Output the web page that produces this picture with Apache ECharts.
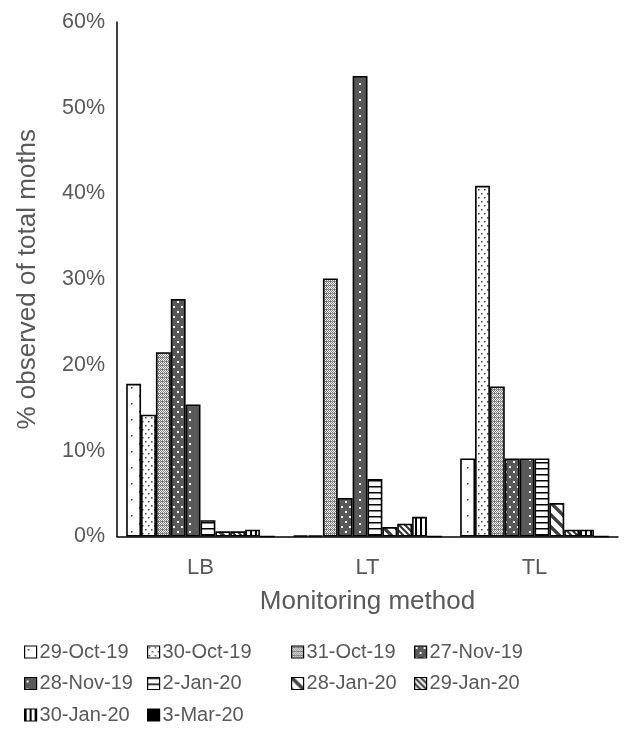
<!DOCTYPE html>
<html>
<head>
<meta charset="utf-8">
<script src="https://cdn.jsdelivr.net/npm/echarts@6/dist/echarts.min.js"></script>
<style>
  html, body { margin: 0; padding: 0; background: #fff; }
  #chart { width: 641px; height: 731px; }
</style>
</head>
<body>
<div id="chart"></div>
<script>
// Monitoring methods on the x axis
const methods = ['LB', 'LT', 'TL'];

// Observation dates (one bar series each)
const dates = ['29-Oct-19', '30-Oct-19', '31-Oct-19', '27-Nov-19', '28-Nov-19',
               '2-Jan-20', '28-Jan-20', '29-Jan-20', '30-Jan-20', '3-Mar-20'];

// % of total moths observed, per method, one value per date
const lbValues = [17.8, 14.2, 21.5, 27.7, 15.4, 1.9, 0.6, 0.6, 0.8, 0];
const ltValues = [0.1, 0.1, 30.1, 4.5, 53.7, 6.7, 1.1, 1.5, 2.3, 0];
const tlValues = [9.1, 40.9, 17.5, 9.1, 9.1, 9.1, 3.9, 0.8, 0.8, 0];

// Y axis ticks (percent)
const yTicks = [0, 10, 20, 30, 40, 50, 60];

const FONT = '"Liberation Sans", Arial, sans-serif';
const TEXT = '#595959';
const DARK = '#595959';

// Build a repeating canvas fill
function tile(w, h, bg, draw) {
  const c = document.createElement('canvas');
  c.width = w; c.height = h;
  const g = c.getContext('2d');
  g.fillStyle = bg;
  g.fillRect(0, 0, w, h);
  draw(g);
  return { image: c, repeat: 'repeat' };
}

const fills = [
  // sparse dots on white
  tile(16, 16, '#fff', g => { g.fillStyle = '#333'; g.fillRect(3, 3, 1.5, 1.5); g.fillRect(11, 11, 1.5, 1.5); }),
  // dense dots on white
  tile(6, 8, '#fff', g => { g.fillStyle = '#444'; g.fillRect(1, 1, 1.5, 1.5); g.fillRect(4, 5, 1.5, 1.5); }),
  // fine textured check
  tile(4, 4, '#fff', g => {
    g.fillStyle = '#7a7a7a';
    g.fillRect(0, 0, 1, 1); g.fillRect(2, 0, 1, 1);
    g.fillRect(1, 1, 2, 1); g.fillRect(3, 1, 1, 1);
    g.fillRect(0, 2, 1, 1); g.fillRect(2, 2, 1, 1);
    g.fillRect(1, 3, 1, 1); g.fillRect(3, 3, 1, 1);
    g.fillStyle = '#b0b0b0';
    g.fillRect(0, 1, 1, 1);
  }),
  // dark with dense white dots
  tile(8, 10, DARK, g => { g.fillStyle = '#fff'; g.fillRect(1, 1, 2, 2); g.fillRect(5, 6, 2, 2); }),
  // dark with sparse white dots
  tile(17, 8, DARK, g => { g.fillStyle = '#fff'; g.fillRect(2, 3, 2, 2); }),
  // horizontal lines
  tile(8, 6, '#fff', g => { g.fillStyle = '#000'; g.fillRect(0, 0, 8, 1.5); }),
  // wide diagonal stripes
  tile(12, 12, '#fff', g => {
    g.strokeStyle = '#404040'; g.lineWidth = 3.5;
    g.beginPath();
    g.moveTo(-3, -3); g.lineTo(15, 15);
    g.moveTo(-15, -3); g.lineTo(3, 15);
    g.moveTo(9, -3); g.lineTo(27, 15);
    g.stroke();
  }),
  // dense diagonal stripes
  tile(6, 6, '#fff', g => {
    g.strokeStyle = '#333'; g.lineWidth = 2;
    g.beginPath();
    g.moveTo(-2, -2); g.lineTo(8, 8);
    g.moveTo(-8, -2); g.lineTo(2, 8);
    g.moveTo(4, -2); g.lineTo(14, 8);
    g.stroke();
  }),
  // vertical lines
  tile(5, 8, '#fff', g => { g.fillStyle = '#000'; g.fillRect(0, 0, 2, 8); }),
  // solid black
  '#000'
];

const valuesByMethod = [lbValues, ltValues, tlValues];

const series = dates.map((d, i) => ({
  name: d,
  type: 'bar',
  data: valuesByMethod.map(v => v[i]),
  barGap: '0%',
  barCategoryGap: '11%',
  itemStyle: { color: fills[i], borderColor: '#000', borderWidth: 1.6 },
  emphasis: { disabled: true },
  animation: false
}));

// Legend laid out in four columns
const columns = [
  { left: 24, items: [dates[0], dates[4], dates[8]] },
  { left: 147, items: [dates[1], dates[5], dates[9]] },
  { left: 291, items: [dates[2], dates[6]] },
  { left: 414, items: [dates[3], dates[7]] }
];
const legends = columns.map(c => ({
  orient: 'vertical',
  left: c.left,
  top: 642,
  data: c.items,
  icon: 'rect',
  itemWidth: 12,
  itemHeight: 12,
  itemGap: 11.5,
  padding: 0,
  selectedMode: false,
  itemStyle: { borderColor: '#000', borderWidth: 1.2 },
  textStyle: { fontFamily: FONT, fontSize: 20, color: TEXT, lineHeight: 20, padding: [0, 0, 0, -2] }
}));

const chart = echarts.init(document.getElementById('chart'), null, { renderer: 'canvas' });
chart.setOption({
  backgroundColor: '#fff',
  animation: false,
  grid: { left: 117, right: 23, top: 22, bottom: 194.5, containLabel: false },
  legend: legends,
  xAxis: {
    type: 'category',
    data: methods,
    name: 'Monitoring method',
    nameLocation: 'middle',
    nameGap: 52,
    nameTextStyle: { fontFamily: FONT, fontSize: 26, color: TEXT, verticalAlign: 'top' },
    axisLine: { lineStyle: { color: '#000', width: 1.5 } },
    axisTick: { show: false },
    axisLabel: { fontFamily: FONT, fontSize: 22, color: TEXT, margin: 20 }
  },
  yAxis: {
    type: 'value',
    min: yTicks[0],
    max: yTicks[yTicks.length - 1],
    interval: 10,
    name: '% observed of total moths',
    nameLocation: 'middle',
    nameGap: 76,
    nameTextStyle: { fontFamily: FONT, fontSize: 26, color: TEXT },
    axisLine: { show: true, lineStyle: { color: '#000', width: 1.5 } },
    axisTick: { show: false },
    splitLine: { show: false },
    axisLabel: { fontFamily: FONT, fontSize: 21.5, color: TEXT, margin: 12, formatter: '{value}%' }
  },
  series: series
});
</script>
</body>
</html>
